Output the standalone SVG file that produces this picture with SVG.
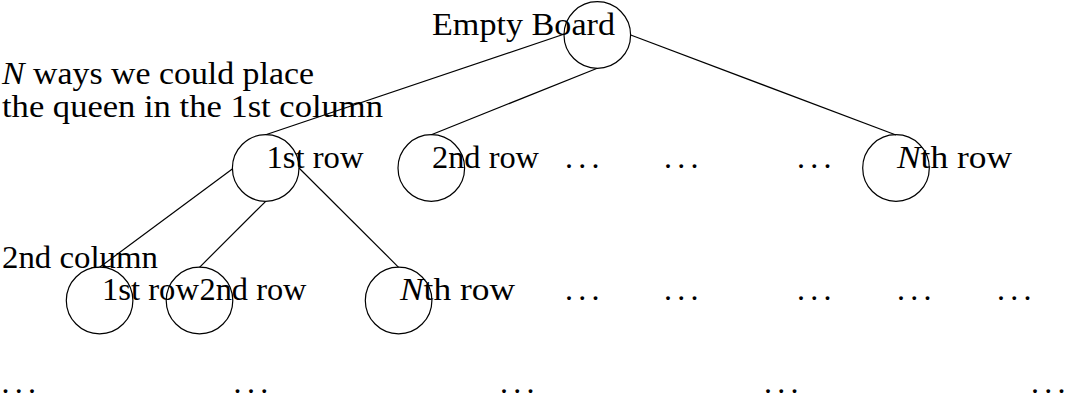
<svg xmlns="http://www.w3.org/2000/svg" width="1071" height="401" viewBox="0 0 1071 401">
<style>
  .n { fill: none; stroke: #000; stroke-width: 1.2; }
  .e { stroke: #000; stroke-width: 1.2; fill: none; }
  text { font-family: "Liberation Serif", "DejaVu Serif", serif; font-size: 32px; fill: #000; }
  .d { letter-spacing: 5.3px; }
  .i { font-style: italic; }
</style>
<rect width="1071" height="401" fill="#fff"/>
<g id="connectors">
  <line class="e" x1="564.5" y1="34" x2="265.7" y2="134.7"/>
  <line class="e" x1="597.3" y1="68.3" x2="431.3" y2="134.7"/>
  <line class="e" x1="630.7" y1="35" x2="896" y2="135"/>
  <line class="e" x1="232.3" y1="169" x2="99.6" y2="267.3"/>
  <line class="e" x1="265.7" y1="201.3" x2="199.5" y2="267.3"/>
  <line class="e" x1="299" y1="168" x2="398.6" y2="267.3"/>
</g>
<g id="root">
  <circle class="n" cx="597.3" cy="35" r="33.3"/>
  <text x="432" y="35" textLength="183" lengthAdjust="spacingAndGlyphs">Empty Board</text>
</g>
<g id="label-col1">
  <text x="2" y="84" textLength="312" lengthAdjust="spacingAndGlyphs"><tspan class="i">N</tspan> ways we could place</text>
  <text x="2" y="117" textLength="381" lengthAdjust="spacingAndGlyphs">the queen in the 1st column</text>
</g>
<g id="l1-row1">
  <circle class="n" cx="265.7" cy="168" r="33.3"/>
  <text x="266.5" y="168" textLength="97" lengthAdjust="spacingAndGlyphs">1st row</text>
</g>
<g id="l1-row2">
  <circle class="n" cx="431.3" cy="168" r="33.3"/>
  <text x="432" y="168" textLength="107" lengthAdjust="spacingAndGlyphs">2nd row</text>
</g>
<g id="l1-dots">
  <text class="d" x="565" y="168">...</text>
  <text class="d" x="664" y="168">...</text>
  <text class="d" x="797" y="168">...</text>
</g>
<g id="l1-rowN">
  <circle class="n" cx="896" cy="168" r="33.3"/>
  <text x="897" y="168" textLength="115" lengthAdjust="spacingAndGlyphs"><tspan class="i">N</tspan>th row</text>
</g>
<g id="label-col2">
  <text x="2" y="268" textLength="156" lengthAdjust="spacingAndGlyphs">2nd column</text>
</g>
<g id="l2-row1">
  <circle class="n" cx="99.6" cy="300.5" r="33.3"/>
  <text x="102" y="300" textLength="97" lengthAdjust="spacingAndGlyphs">1st row</text>
</g>
<g id="l2-row2">
  <circle class="n" cx="199.5" cy="300.5" r="33.3"/>
  <text x="199.5" y="300" textLength="107" lengthAdjust="spacingAndGlyphs">2nd row</text>
</g>
<g id="l2-rowN">
  <circle class="n" cx="398.6" cy="300.5" r="33.3"/>
  <text x="400" y="300" textLength="115" lengthAdjust="spacingAndGlyphs"><tspan class="i">N</tspan>th row</text>
</g>
<g id="l2-dots">
  <text class="d" x="565" y="300">...</text>
  <text class="d" x="664" y="300">...</text>
  <text class="d" x="797" y="300">...</text>
  <text class="d" x="897" y="300">...</text>
  <text class="d" x="997" y="300">...</text>
</g>
<g id="l3-dots">
  <text class="d" x="1.4" y="393">...</text>
  <text class="d" x="233.6" y="393">...</text>
  <text class="d" x="500" y="393">...</text>
  <text class="d" x="764" y="393">...</text>
  <text class="d" x="1031" y="393">...</text>
</g>
</svg>
